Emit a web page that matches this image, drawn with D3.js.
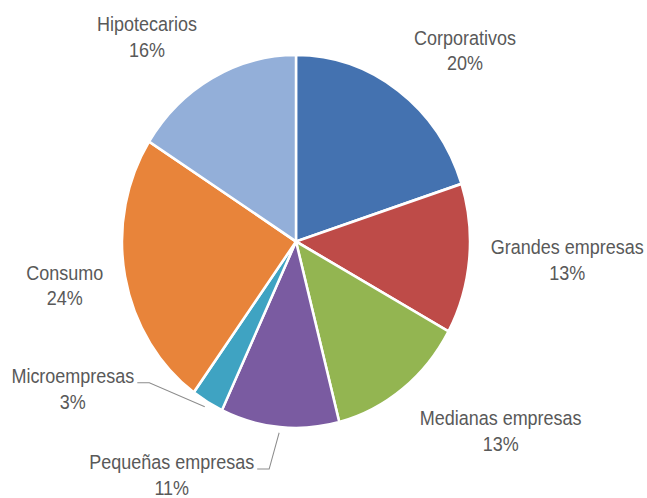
<!DOCTYPE html>
<html>
<head>
<meta charset="utf-8">
<script src="https://cdn.jsdelivr.net/npm/d3@7"></script>
<style>
  body { margin: 0; background: #fff; }
  svg { display: block; }
</style>
</head>
<body>
<div id="chart"></div>
<script>
/* CONSTANTS */
const width = 647,
  height = 498,
  cx = 296,
  cy = 241.5,
  radius = 174,
  stretchY = 1.072; // the reference is a bit taller than wide

/* DATA */
const categories = ["Corporativos", "Grandes empresas", "Medianas empresas",
  "Pequeñas empresas", "Microempresas", "Consumo", "Hipotecarios"];
const shares = [20, 13, 13, 11, 3, 24, 16];
const colors = ["#4472B0", "#BE4B48", "#93B551", "#7A5BA1", "#3FA3C2", "#E8843A", "#93AFD9"];

// label nudges from the label ring (layout only)
const labelNudge = [[36, 5], [46, -4], [66, -2], [-103, -7], [-108, -57], [-9, -1], [-40, 8]];
const hasLeader = [false, false, false, true, true, false, false];

const slices = categories.map((c, i) => ({ name: c, value: shares[i], color: colors[i], i: i }));

/* SVG */
const svg = d3.select("#chart")
  .append("svg")
  .attr("width", width)
  .attr("height", height)
  .style("font-family", "'Liberation Sans', Arial, sans-serif");

const g = svg.append("g")
  .attr("transform", `translate(${cx}, ${cy}) scale(1, ${stretchY})`);

const pie = d3.pie()
  .sort(null)
  .value(d => d.value);

const arc = d3.arc()
  .innerRadius(0)
  .outerRadius(radius);

const labelArc = d3.arc()
  .innerRadius(radius * 1.3)
  .outerRadius(radius * 1.3);

const edgeArc = d3.arc()
  .innerRadius(radius * 1.03)
  .outerRadius(radius * 1.03);

const arcs = pie(slices);

// slices
g.selectAll("path.slice")
  .data(arcs)
  .join("path")
  .attr("class", "slice")
  .attr("d", arc)
  .attr("fill", d => d.data.color)
  .attr("stroke", "#fff")
  .attr("stroke-width", 2.5)
  .attr("stroke-linejoin", "round");

// labels
const labels = g.selectAll("text.label")
  .data(arcs)
  .join("text")
  .attr("class", "label")
  .attr("text-anchor", "middle")
  .attr("font-size", 18)
  .attr("fill", "#595959");

labels.each(function(d) {
  const c = labelArc.centroid(d);
  const n = labelNudge[d.data.i];
  const x = c[0] + n[0], y = c[1] + n[1];
  d.lx = x; d.ly = y;
  const t = d3.select(this);
  t.append("tspan").attr("x", x).attr("y", y - 12 + 6.3).text(d.data.name);
  t.append("tspan").attr("x", x).attr("y", y + 12 + 6.3).text(Math.round(d.data.value) + "%");
});

// leader lines for the small slices near the bottom
labels.filter(d => hasLeader[d.data.i]).each(function(d) {
  const first = this.querySelector("tspan");
  const w = first.getComputedTextLength();
  const x0 = d.lx + w / 2 + 3,
    y0 = d.ly - 12 + 6;
  const end = edgeArc.centroid(d);
  g.append("path")
    .attr("class", "leader")
    .attr("d", d3.line()([[x0, y0], [x0 + 12, y0], end]))
    .attr("fill", "none")
    .attr("stroke", "#8c8c8c")
    .attr("stroke-width", 1);
});
</script>
</body>
</html>
